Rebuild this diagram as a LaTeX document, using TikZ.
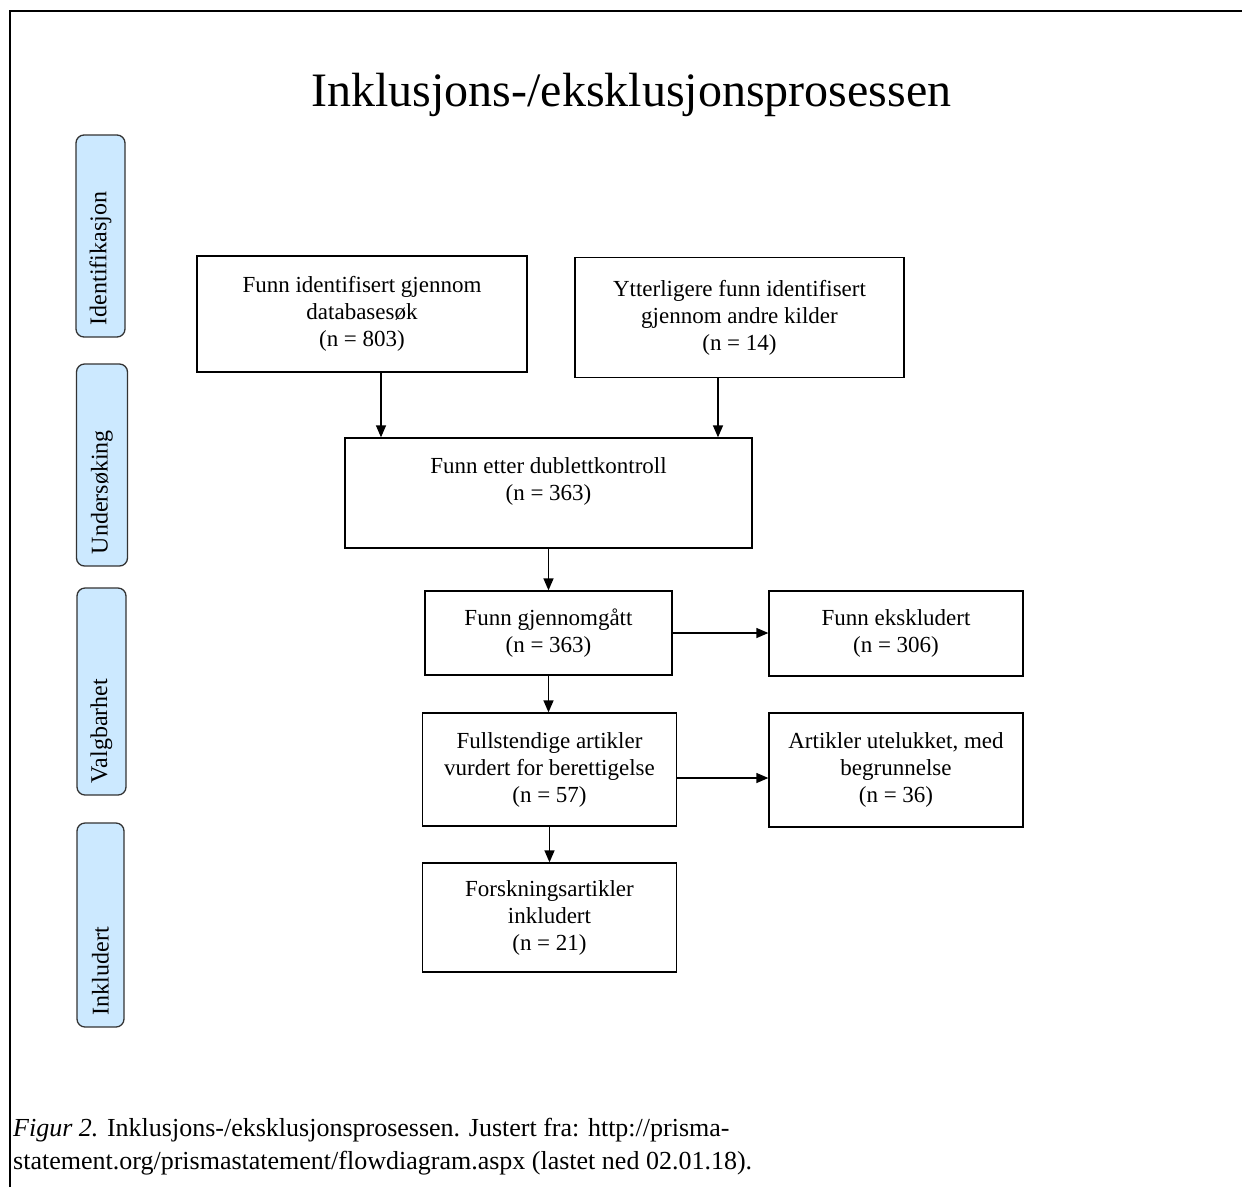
\documentclass[tikz,border=0pt]{standalone}
\usepackage{fontspec}
\setmainfont{Liberation Serif}
\usetikzlibrary{arrows.meta}
\definecolor{phaseblue}{RGB}{204,233,255}
\begin{document}
\begin{tikzpicture}[x=1pt,y=-1pt,
    flowbox/.style={draw, line width=1.3pt, align=center, inner sep=0pt,
        font=\fontsize{23}{27}\selectfont},
    phasebox/.style={draw=black!80, line width=1.3pt, fill=phaseblue, rounded corners=8pt,
        rotate=90, inner ysep=0pt, inner xsep=12pt, align=left,
        font=\fontsize{24}{28}\selectfont},
    flowarrow/.style={line width=1.3pt, -{Triangle[length=12pt,width=10pt]}}]
    \useasboundingbox (0,0) rectangle (1242,1187);

    % frame
    \draw[line width=2pt] (10,1187) -- (10,11) -- (1242,11);

    \node[anchor=base, font=\fontsize{48}{56}\selectfont] (title) at (631.5,106) {Inklusjons-/eksklusjonsprosessen};

    % phases
    \node[phasebox, text width=178pt, minimum height=49pt] (ident) at (100.5,236) {Identifikasjon};
    \node[phasebox, text width=178pt, minimum height=51pt] (unders) at (102,465) {Undersøking};
    \node[phasebox, text width=183pt, minimum height=49pt] (valg) at (101.5,691.5) {Valgbarhet};
    \node[phasebox, text width=180pt, minimum height=47pt] (inkl) at (100.5,925) {Inkludert};

    % boxes
    \node[flowbox, minimum width=330pt, minimum height=116pt] (found) at (362,314) {Funn identifisert gjennom\\databasesøk\\(n = 803)};
    \node[flowbox, minimum width=329pt, minimum height=120pt] (other) at (739.5,317.5) {Ytterligere funn identifisert\\gjennom andre kilder\\(n = 14)};
    \node[flowbox, minimum width=407pt, minimum height=110pt] (dedup) at (548.5,493) {Funn etter dublettkontroll\\(n = 363)\\\mbox{}};
    \node[flowbox, minimum width=247pt, minimum height=84pt] (screen) at (548.5,633) {Funn gjennomgått\\(n = 363)};
    \node[flowbox, minimum width=254pt, minimum height=85pt] (excl) at (896,633.5) {Funn ekskludert\\(n = 306)};
    \node[flowbox, minimum width=254pt, minimum height=113pt] (fulltext) at (549.5,769.5) {Fullstendige artikler\\vurdert for berettigelse\\(n = 57)};
    \node[flowbox, minimum width=254pt, minimum height=114pt] (reject) at (896,770) {Artikler utelukket, med\\begrunnelse\\(n = 36)};
    \node[flowbox, minimum width=254pt, minimum height=109pt] (incl) at (549.5,917.5) {Forskningsartikler\\inkludert\\(n = 21)};

    \draw[flowarrow] ([xshift=19pt]found.south) -- ([xshift=19pt]found.south |- dedup.north);
    \draw[flowarrow] ([xshift=-21.5pt]other.south) -- ([xshift=-21.5pt]other.south |- dedup.north);
    \draw[flowarrow] (dedup.south) -- (dedup.south |- screen.north);
    \draw[flowarrow] (screen.east) -- (screen.east -| excl.west);
    \draw[flowarrow] (screen.south) -- (screen.south |- fulltext.north);
    \draw[flowarrow] ([yshift=-8.5pt]fulltext.east) -- ([yshift=-8.5pt]fulltext.east -| reject.west);
    \draw[flowarrow] (fulltext.south) -- (fulltext.south |- incl.north);

    % caption
    \node[anchor=base west, inner sep=0pt, font=\fontsize{26}{33}\selectfont] (caption1) at (13,1136) {\textit{Figur 2.} Inklusjons-/eksklusjonsprosessen. Justert fra: http://prisma-};
    \node[anchor=base west, inner sep=0pt, font=\fontsize{26}{33}\selectfont] (caption2) at (13,1169) {statement.org/prismastatement/flowdiagram.aspx (lastet ned 02.01.18).};
\end{tikzpicture}
\end{document}
